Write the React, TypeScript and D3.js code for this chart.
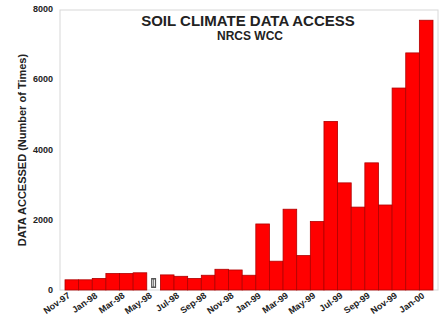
import React from "react";
import * as d3 from "d3";

const months = [
  "Nov-97","Dec-97","Jan-98","Feb-98","Mar-98","Apr-98","May-98","Jun-98","Jul-98",
  "Aug-98","Sep-98","Oct-98","Nov-98","Dec-98","Jan-99","Feb-99","Mar-99","Apr-99",
  "May-99","Jun-99","Jul-99","Aug-99","Sep-99","Oct-99","Nov-99","Dec-99","Jan-00",
];
const accessCounts: (number | null)[] = [
  290, 290, 330, 470, 470, 490, null, 430, 390,
  330, 420, 590, 570, 420, 1880, 820, 2300, 980,
  1950, 4800, 3050, 2360, 3620, 2420, 5750, 6750, 7680,
];
const tickLabels = [
  "Nov-97","Jan-98","Mar-98","May-98","Jul-98","Sep-98","Nov-98",
  "Jan-99","Mar-99","May-99","Jul-99","Sep-99","Nov-99","Jan-00",
];
const yTicks = [0, 2000, 4000, 6000, 8000];
const gapMonth = "May-98";

const W = 442, H = 326;
const frame = { left: 60, top: 10, right: 438, bottom: 290 };
const FONT = "'Liberation Sans', Arial, Helvetica, sans-serif";

export default function App() {
  const x = d3.scaleBand<string>().domain(months).range([65, 433]).padding(0);
  const y = d3.scaleLinear().domain([0, 8000]).range([290, 9]);
  const bw = x.bandwidth();

  return (
    <svg width={W} height={H} style={{ position: "absolute", left: 0, top: 0, background: "#fff" }}>
      <rect x={frame.left} y={frame.top} width={frame.right - frame.left} height={frame.bottom - frame.top}
        fill="none" stroke="#d8d8d8" strokeWidth={1} />
      {months.map((m, i) => {
        const v = accessCounts[i];
        if (v == null) return null;
        return (
          <rect key={m} x={x(m)!} y={y(v)} width={bw} height={y(0) - y(v)}
            fill="#ff0000" stroke="#b00000" strokeWidth={0.8} />
        );
      })}
      {/* break marker */}
      <g transform={`translate(${x(gapMonth)! + bw / 2},0)`}>
        <rect x={-2.5} y={278} width={5} height={10} fill="#555" />
        <line x1={-0.8} x2={-0.8} y1={279.5} y2={286.5} stroke="#fff" strokeWidth={0.9} />
        <line x1={0.9} x2={0.9} y1={279.5} y2={286.5} stroke="#fff" strokeWidth={0.9} />
      </g>
      {yTicks.map((t) => (
        <text key={t} x={53} y={y(t) + 3} textAnchor="end" fontFamily={FONT} fontSize={9}
          fontWeight="bold" fill="#222">{t}</text>
      ))}
      {tickLabels.map((l) => (
        <text key={l} transform={`translate(${x(l)! + bw / 2 - 1},${297}) rotate(-35)`}
          textAnchor="end" fontFamily={FONT} fontSize={9} fontWeight="bold" fill="#222">{l}</text>
      ))}
      <text transform={`translate(26,150) rotate(-90)`} textAnchor="middle" fontFamily={FONT}
        fontSize={11} fontWeight="bold" fill="#222">DATA ACCESSED (Number of Times)</text>
      <text x={248} y={26} textAnchor="middle" fontFamily={FONT} fontSize={15} fontWeight="bold"
        fill="#222">SOIL CLIMATE DATA ACCESS</text>
      <text x={250} y={40} textAnchor="middle" fontFamily={FONT} fontSize={12} fontWeight="bold"
        fill="#222">NRCS WCC</text>
    </svg>
  );
}
